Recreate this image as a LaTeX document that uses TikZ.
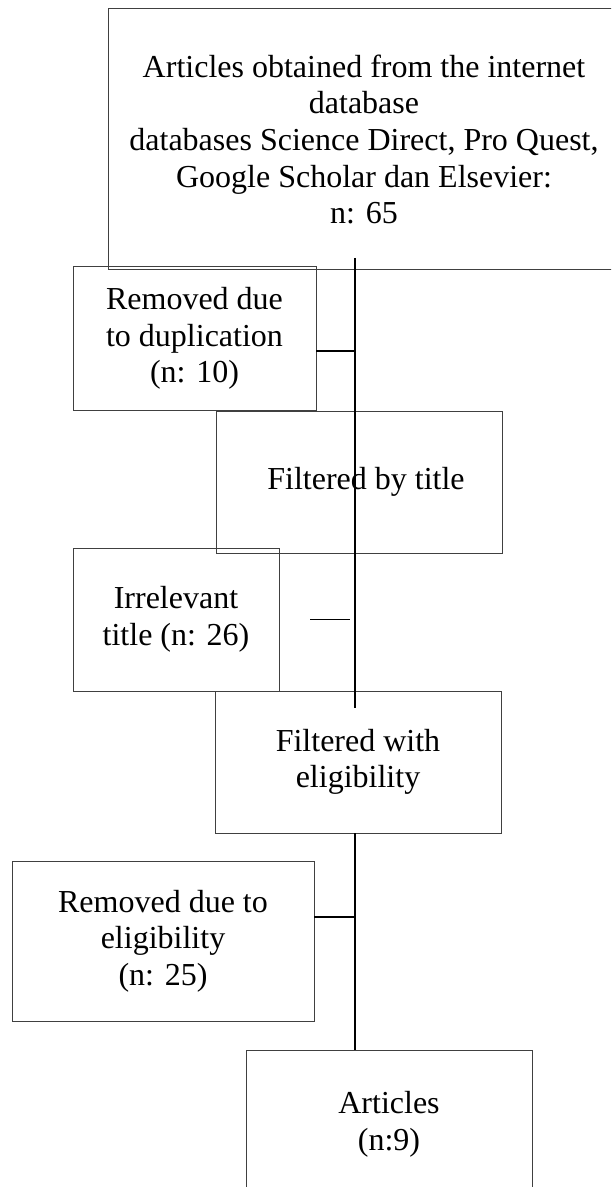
\documentclass[tikz,border=0pt]{standalone}
\usepackage{fontspec}
\setmainfont{Liberation Serif}
\usepackage{tikz}
\usetikzlibrary{positioning,calc}

\begin{document}
\begin{tikzpicture}[
			x=0.5pt, y=-0.5pt,% 1 unit = one pixel of the page
			box/.style = {rectangle, draw=black!75, line width=0.5pt,
				align=center, inner sep=0pt, outer sep=0pt,
				font=\fontsize{16}{18.3}\selectfont},
			link/.style = {draw=black, line width=0.8pt},
			]
			\clip (0,0) rectangle (611,1187);
			\coordinate (spine) at (355,0);% the main vertical line
			% main stream
			\node[box, minimum width=256pt, minimum height=130.5pt] (src) at (364,139.5)
				{Articles obtained from the internet\\ database\\ databases Science Direct, Pro Quest,\\ Google Scholar dan Elsevier:\\ n: 65};
			\node[box, minimum width=143pt, minimum height=71pt] (bytitle) at (359,482) {\hspace*{7pt}Filtered by title};
			\node[box, minimum width=143pt, minimum height=71pt] (elig) at (358,762) {Filtered with\\ eligibility};
			\node[box, minimum width=143pt, minimum height=74pt] (final) at (389,1124) {Articles\\ (n:9)};
			% removed records
			\node[box, minimum width=121.5pt, minimum height=71.5pt] (dup) at (194.5,338.5) {Removed due\\ to duplication\\ (n: 10)};
			\node[box, minimum width=103pt, minimum height=71.5pt] (irr) at (176,619.5) {Irrelevant\\ title (n: 26)};
			\node[box, minimum width=151pt, minimum height=80pt] (rem) at (163,941) {Removed due to\\ eligibility\\ (n: 25)};
			% connectors
			\draw[link] ([yshift=6pt]src.south -| spine) -- ([yshift=-8.5pt]elig.north -| spine);
			\draw[link] (elig.south -| spine) -- (final.north -| spine);
			\draw[link] ([yshift=-6.25pt]dup.east) -- ([yshift=-6.25pt]dup.east -| spine);
			\draw[link] ([xshift=15.5pt]irr.east) -- ([xshift=35.5pt]irr.east);
			\draw[link] ([yshift=12pt]rem.east) -- ([yshift=12pt]rem.east -| spine);
		\end{tikzpicture}
\end{document}
